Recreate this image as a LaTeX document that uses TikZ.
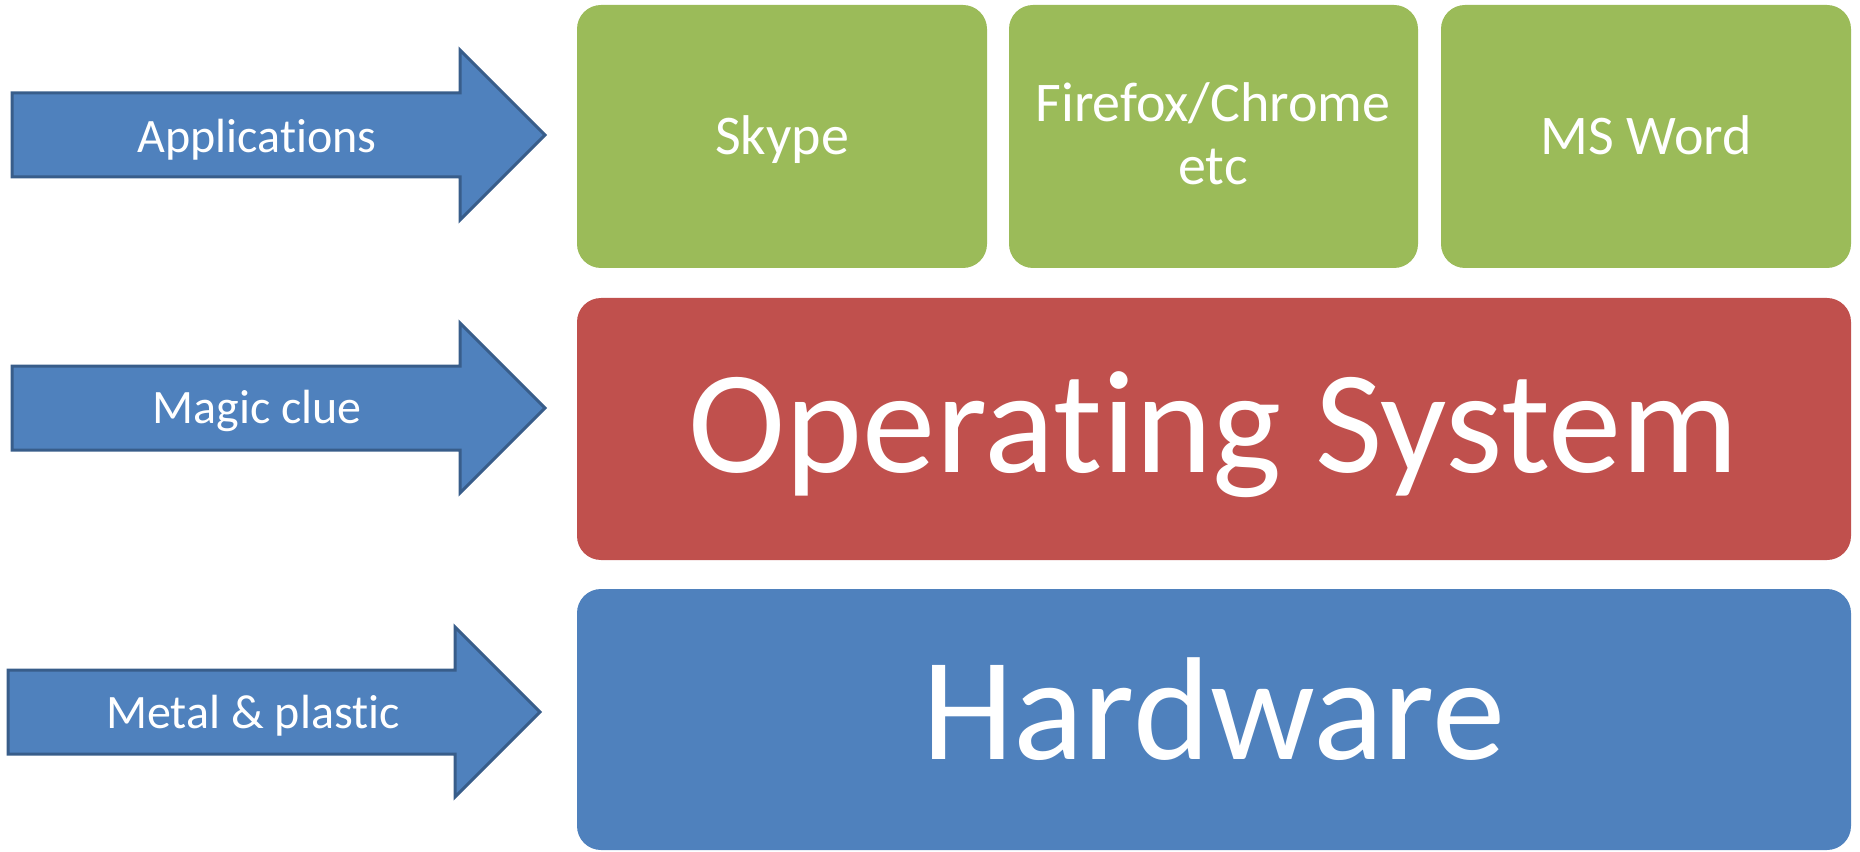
\documentclass[tikz,border=0pt]{standalone}
\usepackage{fontspec}
\setmainfont{Carlito}[Ligatures=NoCommon]
\definecolor{appgreen}{HTML}{9BBB59}
\definecolor{osred}{HTML}{C0504D}
\definecolor{hwblue}{HTML}{4F81BD}
\definecolor{arrowedge}{HTML}{385D8A}
\begin{document}
\begin{tikzpicture}[x=0.75pt,y=-0.75pt,
  layerbox/.style={fill=#1, rounded corners=18pt},
  bigarrow/.style={fill=hwblue, draw=arrowedge, line width=2.25pt, line join=miter},
  arrowlabel/.style={text=white, font=\fontsize{36pt}{43pt}\selectfont, anchor=base, inner sep=0pt},
  applabel/.style={text=white, font=\fontsize{42pt}{50pt}\selectfont, anchor=base, inner sep=0pt, align=center},
  biglabel/.style={text=white, font=\fontsize{110pt}{130pt}\selectfont, anchor=base, inner sep=0pt}]
\useasboundingbox (0,0) rectangle (1860,852);
% application boxes
\fill[layerbox=appgreen] (577,5) rectangle (987,268);
\fill[layerbox=appgreen] (1009,5) rectangle (1418,268);
\fill[layerbox=appgreen] (1441,5) rectangle (1851,268);
% OS and hardware
\fill[layerbox=osred] (577,298) rectangle (1851,560);
\fill[layerbox=hwblue] (577,589) rectangle (1851,850);
\node[applabel] (skype) at (782,155) {Skype};
\node[applabel] (ff) at (1213,122) {Firefox/Chrome};
\node[applabel] (etc) at (1213,185) {etc};
\node[applabel] (word) at (1646,155) {MS Word};
\node[biglabel] (os) at (1214,472) {Operating System};
\node[biglabel] (hw) at (1214,759) {Hardware};
% arrows
\draw[bigarrow] (12,93) -- (460,93) -- (460,50) -- (545,135) -- (460,220) -- (460,177) -- (12,177) -- cycle;
\draw[bigarrow] (12,366) -- (460,366) -- (460,323) -- (545,408) -- (460,493) -- (460,450) -- (12,450) -- cycle;
\draw[bigarrow] (8,670) -- (455,670) -- (455,627) -- (540,712) -- (455,797) -- (455,754) -- (8,754) -- cycle;
\node[arrowlabel] (apps) at (257,153) {Applications};
\node[arrowlabel] (magic) at (257,423) {Magic clue};
\node[arrowlabel] (metal) at (253,728) {Metal \& plastic};
\end{tikzpicture}
\end{document}
